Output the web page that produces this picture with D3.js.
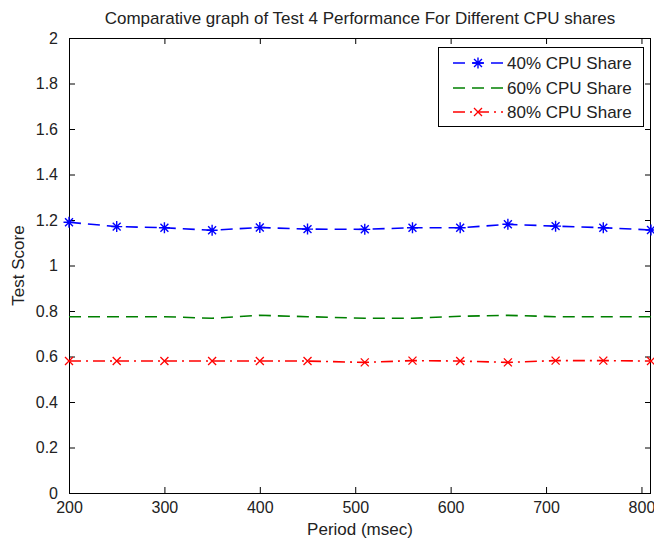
<!DOCTYPE html>
<html>
<head>
<meta charset="utf-8">
<script src="https://cdn.jsdelivr.net/npm/d3@7"></script>
<style>
  html, body { margin: 0; padding: 0; background: #fff; }
  svg { display: block; font-family: "Liberation Sans", Arial, sans-serif; }
</style>
</head>
<body>
<svg id="chart" width="654" height="543"></svg>
<script>
// Period (msec) at which each test was run
const periods = [200, 250, 300, 350, 400, 450, 510, 560, 610, 660, 710, 760, 810];

// Test scores for each CPU share
const share40 = [1.19, 1.171, 1.166, 1.155, 1.167, 1.16, 1.159, 1.166, 1.166, 1.181, 1.173, 1.166, 1.156];
const share60 = [0.775, 0.775, 0.775, 0.768, 0.781, 0.775, 0.768, 0.768, 0.777, 0.781, 0.775, 0.775, 0.775];
const share80 = [0.58, 0.58, 0.58, 0.58, 0.58, 0.58, 0.574, 0.582, 0.58, 0.574, 0.582, 0.582, 0.58];

const seriesNames = ["40% CPU Share", "60% CPU Share", "80% CPU Share"];
const xTicks = [200, 300, 400, 500, 600, 700, 800];
const yTicks = [0, 0.2, 0.4, 0.6, 0.8, 1, 1.2, 1.4, 1.6, 1.8, 2];

const titleText = "Comparative graph of Test 4 Performance For Different CPU shares";
const xLabel = "Period (msec)";
const yLabel = "Test Score";

const svg = d3.select("#chart");
const margin = { left: 69, top: 38, right: 3, bottom: 50 };
const W = 654, H = 543;
const x0 = margin.left, x1 = W - margin.right;
const y0 = H - margin.bottom, y1 = margin.top;

const x = d3.scaleLinear().domain([200, 810]).range([x0, x1]);
const y = d3.scaleLinear().domain([0, 2]).range([y0, y1]);

const styles = [
  { values: share40, color: "#0000ff", dash: "12,7", marker: "star" },
  { values: share60, color: "#008000", dash: "12,7", marker: null },
  { values: share80, color: "#ff0000", dash: "12,5,2,5", marker: "x" }
];

// Axes: ticks pointing inward on all four sides
const tickLen = 6;
const fontSize = 17;
const tickFont = 16;

const g = svg.append("g");

const axBottom = d3.axisBottom(x).tickValues(xTicks).tickSizeInner(-tickLen).tickSizeOuter(0).tickPadding(9).tickFormat(d3.format("d"));
const axTop = d3.axisTop(x).tickValues(xTicks).tickSizeInner(-tickLen).tickSizeOuter(0).tickFormat("");
const axLeft = d3.axisLeft(y).tickValues(yTicks).tickSizeInner(-tickLen).tickSizeOuter(0).tickPadding(11).tickFormat(d => d3.format("~g")(d));
const axRight = d3.axisRight(y).tickValues(yTicks).tickSizeInner(-tickLen).tickSizeOuter(0).tickFormat("");

function styleAxis(sel) {
  sel.select(".domain").remove();
  sel.selectAll(".tick line").attr("stroke", "#000").attr("stroke-width", 1);
  sel.selectAll(".tick text").attr("fill", "#222").style("font-size", tickFont + "px").style("font-family", "Liberation Sans, Arial, sans-serif");
}

g.append("g").attr("transform", `translate(0,${y0})`).call(axBottom).call(styleAxis);
g.append("g").attr("transform", `translate(0,${y1})`).call(axTop).call(styleAxis);
g.append("g").attr("transform", `translate(${x0},0)`).call(axLeft).call(styleAxis);
g.append("g").attr("transform", `translate(${x1},0)`).call(axRight).call(styleAxis);

// Plot box
g.append("rect")
  .attr("x", x0 + 0.5).attr("y", y1 + 0.5)
  .attr("width", x1 - x0 - 1).attr("height", y0 - y1)
  .attr("fill", "none").attr("stroke", "#000").attr("stroke-width", 1);

// Marker drawing
function drawMarker(sel, type, color, size) {
  const r = size / 2;
  if (type === "star") {
    const d = r * 0.72;
    sel.append("path")
      .attr("d", `M${-r},0H${r}M0,${-r}V${r}M${-d},${-d}L${d},${d}M${-d},${d}L${d},${-d}`)
      .attr("stroke", color).attr("stroke-width", 1.4).attr("fill", "none");
  } else if (type === "x") {
    sel.append("path")
      .attr("d", `M${-r},${-r}L${r},${r}M${-r},${r}L${r},${-r}`)
      .attr("stroke", color).attr("stroke-width", 1.3).attr("fill", "none");
  }
}

// Series lines and markers
const line = d3.line().x((d, i) => x(periods[i])).y(d => y(d));
const plot = g.append("g");
styles.forEach(s => {
  plot.append("path")
    .datum(s.values)
    .attr("d", line)
    .attr("fill", "none")
    .attr("stroke", s.color)
    .attr("stroke-width", 1.6)
    .attr("stroke-dasharray", s.dash);
  if (s.marker) {
    const size = s.marker === "star" ? 11 : 8;
    s.values.forEach((v, i) => {
      const m = plot.append("g").attr("transform", `translate(${x(periods[i])},${y(v)})`);
      drawMarker(m, s.marker, s.color, size);
    });
  }
});

// Title and axis labels
svg.append("text")
  .attr("x", (x0 + x1) / 2).attr("y", 24)
  .attr("text-anchor", "middle")
  .style("font-size", fontSize + "px").attr("fill", "#222")
  .text(titleText);

svg.append("text")
  .attr("x", (x0 + x1) / 2).attr("y", 535)
  .attr("text-anchor", "middle")
  .style("font-size", fontSize + "px").attr("fill", "#222")
  .text(xLabel);

svg.append("text")
  .attr("transform", `translate(24,${(y0 + y1) / 2}) rotate(-90)`)
  .attr("text-anchor", "middle")
  .style("font-size", fontSize + "px").attr("fill", "#222")
  .text(yLabel);

// Legend
const lg = svg.append("g");
const lx = 438, ly = 47, lw = 205, lh = 79;
lg.append("rect")
  .attr("x", lx + 0.5).attr("y", ly + 0.5).attr("width", lw).attr("height", lh)
  .attr("fill", "#fff").attr("stroke", "#000").attr("stroke-width", 1);
const rowY = [63, 88, 112];
styles.forEach((s, i) => {
  const cy = rowY[i];
  lg.append("line")
    .attr("x1", 453).attr("x2", 503).attr("y1", cy).attr("y2", cy)
    .attr("stroke", s.color).attr("stroke-width", 1.6)
    .attr("stroke-dasharray", s.dash);
  if (s.marker) {
    const m = lg.append("g").attr("transform", `translate(478,${cy})`);
    drawMarker(m, s.marker, s.color, s.marker === "star" ? 11 : 8);
  }
  lg.append("text")
    .attr("x", 507).attr("y", cy + 6)
    .style("font-size", fontSize + "px").attr("fill", "#222")
    .text(seriesNames[i]);
});
</script>
</body>
</html>
